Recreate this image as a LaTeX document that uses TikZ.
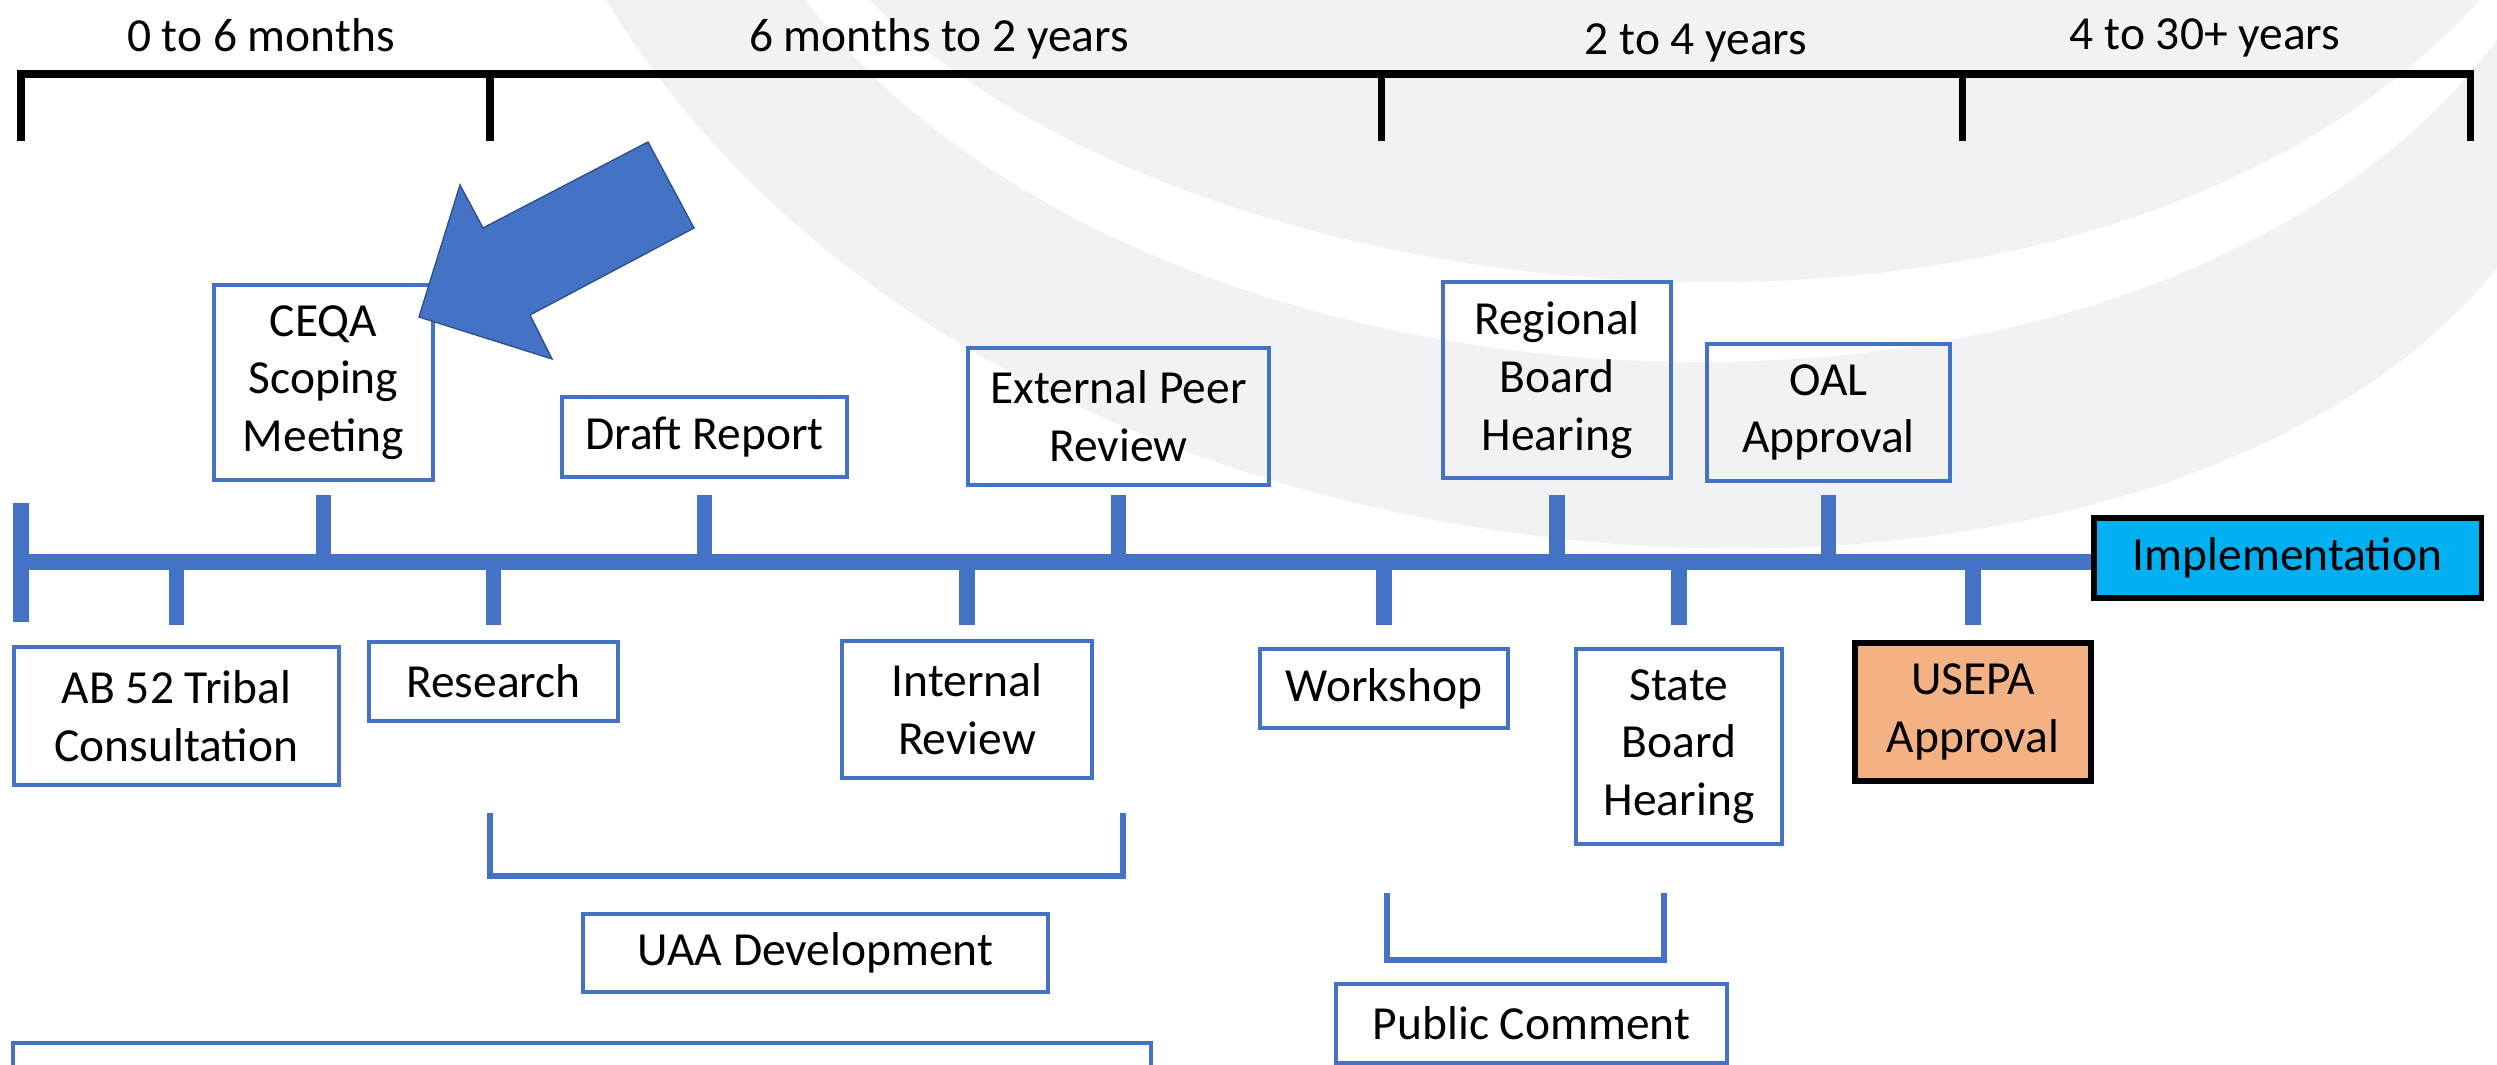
\documentclass[tikz,border=0pt]{standalone}
\usepackage{fontspec}
\setmainfont{Carlito}
\definecolor{tlblue}{HTML}{4472C4}
\definecolor{implfill}{HTML}{00B0F0}
\definecolor{usepafill}{HTML}{F4B183}
\definecolor{arrowedge}{HTML}{2F528F}
\definecolor{wmgrey}{HTML}{F2F2F4}
\tikzset{
  box/.style={draw=tlblue, line width=1.15pt, align=center, inner sep=0pt,
    font=\fontsize{13.5}{16.4}\selectfont},
  blackbox/.style={box, draw=black, line width=1.5pt},
  lbl/.style={font=\fontsize{13.5}{16.4}\selectfont, anchor=base, inner sep=0pt},
  tickline/.style={draw=tlblue, line width=4.5pt},
  mainline/.style={draw=tlblue, line width=4.5pt},
  brk/.style={draw=tlblue, line width=1.7pt},
  topbrk/.style={draw=black, line width=2pt},
}
\begin{document}
\begin{tikzpicture}[x=0.01cm, y=-0.01cm]
\useasboundingbox (0,0) rectangle (2497,1065);
\clip (0,0) rectangle (2497,1065);
% faint watermark
\fill[wmgrey] (869,0) .. controls (1200,330) and (2100,420) .. (2480,0) -- cycle;
\fill[wmgrey] (606,0) .. controls (1000,650) and (2150,700) .. (2497,268)
  -- (2497,40) .. controls (2150,500) and (1150,450) .. (805,0) -- cycle;

% top period bracket
\coordinate (b0) at (21,74);
\coordinate (b1) at (490,74);
\coordinate (b2) at (1381,74);
\coordinate (b3) at (1962,74);
\coordinate (b4) at (2470,74);
\draw[topbrk, line cap=rect] (b0) -- (b4);
\foreach \b in {b0,b1,b2,b3,b4} \draw[topbrk] (\b) -- ++(0,67);
\node[lbl] (p1) at (261,52) {0 to 6 months};
\node[lbl] (p2) at (939,52) {6 months to 2 years};
\node[lbl] (p3) at (1696,55) {2 to 4 years};
\node[lbl] (p4) at (2205,50) {4 to 30+ years};

% boxes above the line
\node[box, minimum width=2.19cm, minimum height=1.95cm] (ceqa) at (323.5,382.5) {CEQA\\Scoping\\Meeting};
\node[box, minimum width=2.85cm, minimum height=0.80cm] (draft) at (704.5,437) {Draft Report};
\node[box, minimum width=3.01cm, minimum height=1.37cm] (ext) at (1118.5,416.5) {External Peer\\Review};
\node[box, minimum width=2.28cm, minimum height=1.96cm] (reg) at (1557,380) {Regional\\Board\\Hearing};
\node[box, minimum width=2.43cm, minimum height=1.37cm] (oal) at (1828.5,412.5) {OAL\\Approval};
\node[blackbox, fill=implfill, minimum width=3.87cm, minimum height=0.80cm] (impl) at (2287.5,558) {Implementation};

% boxes below the line
\node[box, minimum width=3.25cm, minimum height=1.38cm] (ab) at (176.5,716) {AB 52 Tribal\\Consultation};
\node[box, minimum width=2.49cm, minimum height=0.79cm] (res) at (493.5,681.5) {Research};
\node[box, minimum width=2.50cm, minimum height=1.37cm] (int) at (967,709.5) {Internal\\Review};
\node[box, minimum width=2.48cm, minimum height=0.79cm] (work) at (1384,688.5) {Workshop};
\node[box, minimum width=2.06cm, minimum height=1.95cm] (state) at (1679,746.5) {State\\Board\\Hearing};
\node[blackbox, fill=usepafill, minimum width=2.36cm, minimum height=1.38cm] (usepa) at (1973,712) {USEPA\\Approval};
\node[box, minimum width=4.65cm, minimum height=0.78cm] (uaa) at (815.5,953) {UAA Development};
\node[box, minimum width=3.91cm, minimum height=0.79cm] (pub) at (1531.5,1023.5) {Public Comment};
\node[box, minimum width=11.38cm, minimum height=1.0cm, anchor=north] (note) at (582,1041) {};

% main timeline
\coordinate (tlstart) at (21,562);
\coordinate (uptop) at (0,495);
\coordinate (dnbot) at (0,625);
\draw[mainline] (tlstart) -- (tlstart -| impl.west);
\coordinate (lefttop) at (21,503);
\coordinate (leftbot) at (21,622);
\draw[tickline] (lefttop) -- (leftbot);
\foreach \n in {ceqa,draft,ext,reg,oal}
  \draw[tickline] (\n.south |- uptop) -- (\n.south |- tlstart);
\foreach \n in {ab,res,int,work,state,usepa}
  \draw[tickline] (\n.north |- tlstart) -- (\n.north |- dnbot);

% grouping brackets
\coordinate (uaaL) at (490,813);
\coordinate (uaaR) at (1123,813);
\draw[brk] (uaaL) -- ++(0,63) -| (uaaR);
\coordinate (pubL) at (1387,893);
\coordinate (pubR) at (1664,893);
\draw[brk] (pubL) -- ++(0,67) -| (pubR);

% pointer arrow
\filldraw[fill=tlblue, draw=arrowedge, line width=0.4pt, line join=miter]
  (648,142) -- (694,228) -- (530,315) -- (552,359) -- (419,317) -- (460,185) -- (483,228) -- cycle;
\end{tikzpicture}
\end{document}
